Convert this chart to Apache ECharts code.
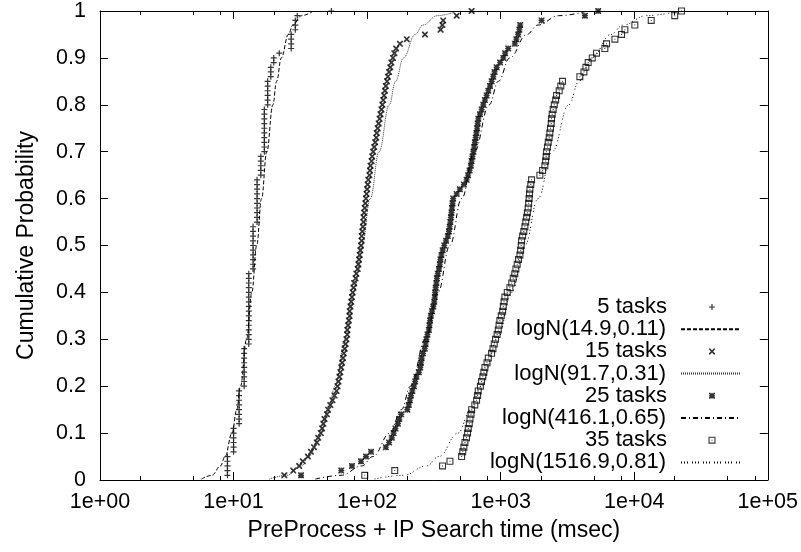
<!DOCTYPE html>
<html>
<head>
<meta charset="utf-8">
<script src="https://cdn.jsdelivr.net/npm/echarts@6/dist/echarts.min.js"></script>
<style>
  html, body { margin: 0; padding: 0; background: #fff; }
  #chart { width: 801px; height: 552px; }
</style>
</head>
<body>
<div id="chart"></div>
<script>
// Sorted PreProcess + IP Search times (msec), one entry per run
const tasks5 = [
  9, 9, 9, 9, 9, 10, 10, 10, 10, 10, 10, 11, 11, 11, 11, 11, 11, 11, 11,
  12, 12, 12, 12, 12, 12, 12, 12, 12,
  13, 13, 13, 13, 13, 13, 13, 13, 13, 13, 13, 13, 13, 13, 13, 13,
  14, 14, 14, 14, 14, 14, 14, 14, 14, 14,
  15, 15, 15, 15, 15, 15, 15, 15, 15, 15,
  16, 16, 16, 16, 16,
  17, 17, 17, 17, 17, 17, 17, 17, 17, 17,
  18, 18, 18, 18, 18, 18, 19, 19, 19, 20, 20, 22,
  27, 27, 27, 27, 29, 29, 29, 30, 54
];
const tasks15 = [
  24, 28, 31, 33, 36, 38, 40, 42, 43, 45,
  46, 47, 48, 50, 51, 53, 55, 57, 59, 60,
  61, 62, 63, 64, 65, 66, 67, 68, 69, 70,
  71, 71, 72, 73, 74, 74, 75, 76, 77, 78,
  79, 80, 82, 83, 85, 86, 87, 88, 89, 90,
  91, 91, 92, 93, 94, 94, 95, 96, 97, 98,
  99, 100, 101, 102, 104, 105, 106, 108, 109, 111,
  113, 115, 117, 118, 120, 122, 124, 126, 128, 130,
  132, 134, 136, 138, 141, 143, 146, 149, 152, 156,
  160, 165, 176, 198, 271, 355, 366, 371, 468, 606
];
const tasks25 = [
  32, 64, 77, 90, 98, 107, 138, 146, 153, 158,
  163, 170, 174, 180, 200, 205, 209, 213, 218, 224,
  229, 234, 244, 250, 253, 256, 262, 270, 274, 278,
  283, 290, 293, 296, 300, 306, 313, 318, 321, 323,
  326, 330, 333, 338, 345, 350, 354, 360, 368, 378,
  390, 402, 410, 415, 420, 424, 428, 432, 436, 441,
  468, 495, 530, 556, 570, 585, 598, 606, 615, 625,
  633, 641, 650, 658, 666, 673, 680, 700, 720, 741,
  762, 785, 808, 832, 856, 880, 900, 933, 990, 1046,
  1080, 1138, 1276, 1310, 1352, 1380, 1400, 2024, 4270, 5370
];
const tasks35 = [
  96, 161, 367, 417, 510, 520, 530, 540, 555, 565,
  572, 582, 589, 600, 606, 640, 660, 672, 679, 705,
  719, 735, 748, 762, 790, 808, 855, 875, 895, 915,
  940, 959, 972, 986, 1010, 1035, 1046, 1060, 1075, 1120,
  1172, 1210, 1241, 1275, 1300, 1330, 1360, 1393, 1410, 1425,
  1433, 1460, 1490, 1518, 1540, 1565, 1585, 1607, 1620, 1632,
  1643, 1655, 1680, 1703, 1965, 2060, 2142, 2170, 2190, 2205,
  2240, 2270, 2307, 2335, 2360, 2390, 2404, 2430, 2473, 2520,
  2580, 2620, 2742, 2820, 2906, 3916, 4200, 4343, 4518, 4850,
  5218, 6026, 6206, 7164, 8035, 8511, 10100, 13400, 20100, 22600
];

// Fitted log-normal curves: probability levels and the matching times (msec)
const fitProb = [0.002, 0.01, 0.03, 0.05, 0.1, 0.15, 0.2, 0.3, 0.4, 0.5,
                 0.6, 0.7, 0.8, 0.85, 0.9, 0.95, 0.97, 0.99, 0.998];
const fit5  = [5.74, 6.89, 7.98, 8.63, 9.74, 10.57, 11.27, 12.52, 13.70, 14.9,
               16.20, 17.73, 19.70, 21.0, 22.79, 25.72, 27.80, 32.23, 38.71];
const fit15 = [18.5, 25.1, 32.2, 36.7, 44.9, 51.5, 57.4, 68.5, 79.7, 91.7,
               105.6, 122.8, 146.5, 163.3, 187.2, 229.1, 261.3, 334.7, 455.3];
const fit25 = [40.9, 63.8, 91.3, 110.5, 148.0, 180.5, 211.0, 272.7, 339.3, 416.1,
               510.3, 634.9, 820.4, 959.2, 1169.7, 1567.3, 1895.7, 2715.7, 4236];
const fit35 = [113.7, 187.0, 279.1, 345.1, 478.4, 597.1, 711.0, 946.5, 1208, 1516.9,
               1904.8, 2430.8, 3236.6, 3853.7, 4809, 6667, 8243.6, 12303, 20221];

const seriesNames = ['5 tasks', 'logN(14.9,0.11)', '15 tasks', 'logN(91.7,0.31)',
                     '25 tasks', 'logN(416.1,0.65)', '35 tasks', 'logN(1516.9,0.81)'];
const xTickLabels = ['1e+00', '1e+01', '1e+02', '1e+03', '1e+04', '1e+05'];
const yTickLabels = ['0', '0.1', '0.2', '0.3', '0.4', '0.5', '0.6', '0.7', '0.8', '0.9', '1'];
const xMinorTicks = [2, 5, 8, 20, 50, 80, 200, 500, 800, 2000, 5000, 8000, 20000, 50000, 80000];

// ---- drawing ----
const FONT = "'Liberation Sans', Arial, Helvetica, sans-serif";
const BLACK = '#000';

// point glyphs (filled outlines so they render crisply)
const PLUS = 'path://M0,2.4L6,2.4L6,3.6L0,3.6Z M2.4,0L3.6,0L3.6,6L2.4,6Z';
const CROSS = 'path://M0,0L1.2,0L6,4.8L6,6L4.8,6L0,1.2Z M4.8,0L6,0L6,1.2L1.2,6L0,6L0,4.8Z';
const STAR = 'path://M0,2.4L6,2.4L6,3.6L0,3.6Z M2.4,0L3.6,0L3.6,6L2.4,6Z M0,0L1.2,0L6,4.8L6,6L4.8,6L0,1.2Z M4.8,0L6,0L6,1.2L1.2,6L0,6L0,4.8Z';
const BOX = 'path://M0,0L7,0L7,7L0,7Z M1.1,1.1L1.1,5.9L5.9,5.9L5.9,1.1Z M3,3L4,3L4,4L3,4Z';

const ecdf = s => s.map((v, i) => [v, (i + 1) / s.length]);
const curve = xs => xs.map((v, i) => [v, fitProb[i]]);

function points(name, data, symbol, size) {
  return {
    name, type: 'scatter', data: ecdf(data), symbol, symbolSize: size,
    itemStyle: { color: BLACK }, silent: true, emphasis: { disabled: true }
  };
}
function fitLine(name, data, dash, color) {
  return {
    name, type: 'line', data: curve(data), symbol: 'circle', showSymbol: false,
    smooth: 0.4, smoothMonotone: 'x', silent: true, emphasis: { disabled: true },
    lineStyle: { color: color || BLACK, width: 1, type: dash },
    itemStyle: { color: color || BLACK }
  };
}

const series = [
  points(seriesNames[0], tasks5, PLUS, 6),
  fitLine(seriesNames[1], fit5, [4, 2]),
  points(seriesNames[2], tasks15, CROSS, 6),
  fitLine(seriesNames[3], fit15, [1, 1], '#333'),
  points(seriesNames[4], tasks25, STAR, 6),
  fitLine(seriesNames[5], fit25, [5, 3, 1, 3]),
  points(seriesNames[6], tasks35, BOX, 7),
  fitLine(seriesNames[7], fit35, [1, 2, 1, 2, 1, 4])
];

// key: text right-aligned, sample to the right of it, one row per series.
// A point glyph is centred in the 60px sample slot, so its box ends 33px in.
const icons = [PLUS, null, CROSS, null, STAR, null, BOX, null];
const legends = seriesNames.map((name, i) => ({
  data: [icons[i]
    ? { name, icon: icons[i] }
    : { name, itemStyle: { color: 'rgba(0,0,0,0)', borderWidth: 0, opacity: 0 } }],
  orient: 'horizontal', align: 'right',
  right: icons[i] ? 801 - (682 + (icons[i] === BOX ? 33.5 : 33)) : 59,
  top: 296 + i * 22.2,
  itemWidth: 60, itemHeight: icons[i] === BOX ? 7 : 6, padding: 0, itemGap: 0,
  selectedMode: false, inactiveColor: BLACK,
  textStyle: { fontFamily: FONT, fontSize: 22, color: BLACK, padding: [0, 10, 0, 0] }
}));

const axisLine = { show: true, lineStyle: { color: BLACK, width: 1 } };
const tickStyle = { color: BLACK, width: 1 };
const tickText = { fontFamily: FONT, fontSize: 21.5, color: BLACK };
const titleText = { fontFamily: FONT, fontSize: 23, color: BLACK };

function xAxisDef(position, major, withLabels) {
  const ax = {
    type: 'log', logBase: 10, min: 1, max: 100000, position, gridIndex: 0,
    axisLine: major ? axisLine : { show: false },
    splitLine: { show: false },
    axisTick: major
      ? { show: true, inside: true, length: 8, lineStyle: tickStyle }
      : { show: true, inside: true, length: 4, lineStyle: tickStyle, customValues: xMinorTicks },
    axisLabel: withLabels
      ? Object.assign({ show: true, margin: 11,
          formatter: v => xTickLabels[Math.round(Math.log10(v))] }, tickText)
      : { show: false }
  };
  if (withLabels) {
    ax.name = 'PreProcess + IP Search time (msec)';
    ax.nameLocation = 'middle';
    ax.nameGap = 39;
    ax.nameTextStyle = titleText;
  }
  return ax;
}

function yAxisDef(position, withLabels) {
  const ax = {
    type: 'value', min: 0, max: 1, interval: 0.1, position,
    axisLine, splitLine: { show: false },
    axisTick: { show: true, inside: true, length: 8, lineStyle: tickStyle },
    axisLabel: withLabels
      ? Object.assign({ show: true, margin: 14,
          formatter: v => yTickLabels[Math.round(v * 10)] }, tickText)
      : { show: false }
  };
  if (withLabels) {
    ax.name = 'Cumulative Probability';
    ax.nameLocation = 'middle';
    ax.nameRotate = 90;
    ax.nameGap = 62;
    ax.nameTextStyle = titleText;
  }
  return ax;
}

const chart = echarts.init(document.getElementById('chart'), null, { renderer: 'canvas' });
chart.setOption({
  animation: false,
  backgroundColor: '#fff',
  textStyle: { fontFamily: FONT },
  grid: { left: 100, right: 33, top: 10, bottom: 72, containLabel: false },
  legend: legends,
  xAxis: [
    xAxisDef('bottom', true, true),
    xAxisDef('bottom', false, false),
    xAxisDef('top', true, false),
    xAxisDef('top', false, false)
  ],
  yAxis: [yAxisDef('left', true), yAxisDef('right', false)],
  series
});
</script>
</body>
</html>
